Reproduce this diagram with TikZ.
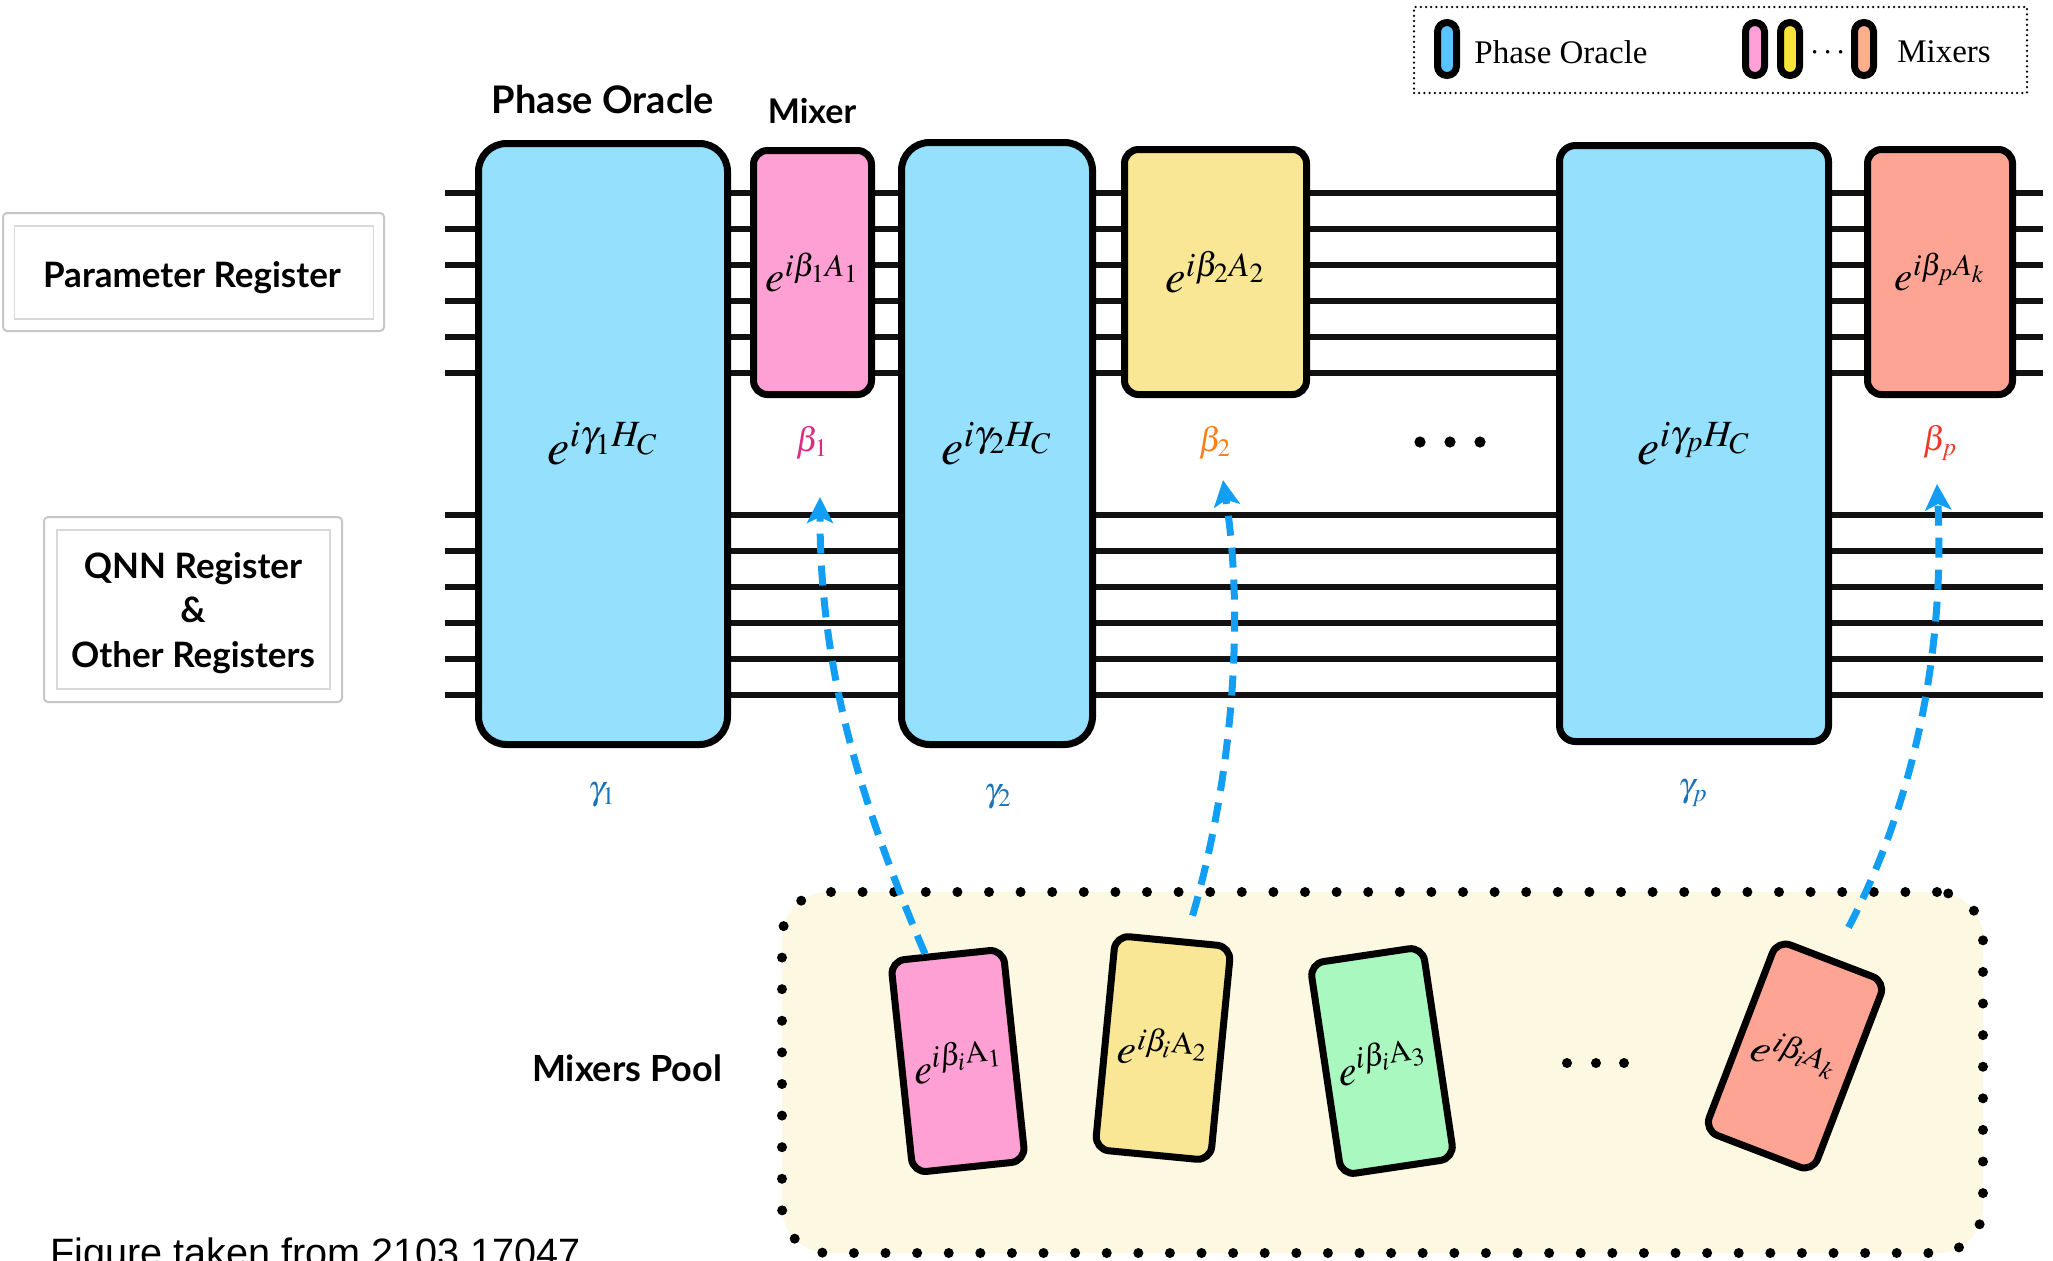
\documentclass[tikz,border=0pt]{standalone}
\usepackage{mathptmx}
\usepackage[no-math]{fontspec}
\setmainfont{Liberation Serif}
\newfontfamily\labfont{Lato}
\newfontfamily\figfont{Liberation Sans}
\usetikzlibrary{arrows.meta,calc}
\definecolor{oracle}{RGB}{148,224,253}
\definecolor{mixpink}{RGB}{255,160,212}
\definecolor{mixyellow}{RGB}{249,231,149}
\definecolor{mixsalmon}{RGB}{253,164,149}
\definecolor{mixgreen}{RGB}{169,248,192}
\definecolor{poolfill}{RGB}{252,248,225}
\definecolor{arrowblue}{RGB}{18,158,245}
\definecolor{betaone}{RGB}{222,40,130}
\definecolor{betatwo}{RGB}{250,128,20}
\definecolor{betap}{RGB}{240,55,40}
\definecolor{gammacol}{RGB}{25,115,185}
\definecolor{legblue}{RGB}{90,194,255}
\definecolor{legpink}{RGB}{255,160,216}
\definecolor{legyellow}{RGB}{249,228,58}
\definecolor{legsalmon}{RGB}{255,175,142}
\tikzset{
  gate/.style={draw=black, line width=3.5pt, inner sep=0pt, font=\fontsize{25}{30}\selectfont},
  wire/.style={line width=3pt, draw=black!93},
  poolgate/.style={gate, rounded corners=7pt, font=\fontsize{21}{25}\selectfont},
  lab/.style={font=\labfont\bfseries\fontsize{17.5}{22.25}\selectfont, inner sep=0pt},
  param/.style={font=\fontsize{17}{20}\selectfont, inner sep=0pt},
  conn/.style={draw=arrowblue, line width=3.5pt, dash pattern=on 10pt off 6pt,
    -{Stealth[length=13pt,width=13pt,inset=3pt]}},
  pill/.style={draw=black, line width=3.5pt, rounded corners=4.7pt,
    minimum width=9.5pt, minimum height=26.5pt, inner sep=0pt},
  regouter/.style={draw=black!22, line width=1pt, rounded corners=2pt, fill=white},
  reginner/.style={draw=black!15, line width=0.6pt, inner sep=0pt},
  leg/.style={font=\fontsize{16.5}{20}\selectfont, inner sep=0pt},
  dotc/.style={circle, fill=black, inner sep=0pt, minimum size=5.6pt},
}
\begin{document}
\begin{tikzpicture}[x=0.5pt,y=-0.5pt]
\useasboundingbox (0,0) rectangle (2053,1260);

% wires
\foreach \y in {193,229,265,301,337,373,515,551,587,623,659,695}
  \draw[wire] (445,\y) -- (2043,\y);

% gates
\node[gate, fill=oracle, rounded corners=14pt, minimum width=124.5pt, minimum height=300.5pt] (po1) at (603,444) {$e^{i\gamma_1 H_C}$};
\node[gate, fill=mixpink, rounded corners=7pt, minimum width=59pt, minimum height=122pt, font=\fontsize{21.5}{26}\selectfont] (mx1) at (812.5,272.5) {$e^{i\beta_1 A_1}$};
\node[gate, fill=oracle, rounded corners=14pt, minimum width=95.5pt, minimum height=301pt] (po2) at (997,443.5) {$e^{i\gamma_2 H_C}$};
\node[gate, fill=mixyellow, rounded corners=7pt, minimum width=91pt, minimum height=122.5pt, font=\fontsize{23}{27}\selectfont] (mx2) at (1215.5,272) {$e^{i\beta_2 A_2}$};
\node[gate, fill=oracle, rounded corners=8pt, minimum width=134.5pt, minimum height=298pt] (pop) at (1694,443.5) {$e^{i\gamma_p H_C}$};
\node[gate, fill=mixsalmon, rounded corners=7pt, minimum width=72.5pt, minimum height=122.5pt, font=\fontsize{20.5}{25}\selectfont] (mxp) at (1940,272) {$e^{i\beta_p A_k}$};

% top labels
\node[lab, font=\labfont\bfseries\fontsize{19}{23}\selectfont] (polab) at (603,100) {Phase Oracle};
\node[lab, font=\labfont\bfseries\fontsize{17}{21}\selectfont] (mixlab) at (812,111) {Mixer};

% parameter labels
\node[param, text=betaone] (b1) at (812,443) {$\beta_1$};
\node[param, text=betatwo] (b2) at (1215,443) {$\beta_2$};
\node[param, text=betap] (bp) at (1940,443) {$\beta_p$};
\node[param, text=gammacol] (g1) at (602,795) {$\gamma_1$};
\node[param, text=gammacol] (g2) at (998,797) {$\gamma_2$};
\node[param, text=gammacol] (gp) at (1693,793) {$\gamma_p$};

% dots between
\node[dotc] (d1) at (1420,442) {};
\node[dotc] (d2) at (1450,442) {};
\node[dotc] (d3) at (1480,442) {};

% register boxes
\node[regouter, minimum width=190.5pt, minimum height=59pt] (pregbox) at (193.5,272) {};
\node[reginner, minimum width=179.75pt, minimum height=46.5pt] (pregin) at (194,272.5) {};
\node[lab] (preg) at (192,278) {Parameter Register};
\node[regouter, minimum width=149pt, minimum height=92.5pt] (qregbox) at (193,609.5) {};
\node[reginner, minimum width=136.5pt, minimum height=79.5pt] (qregin) at (193.5,609.5) {};
\node[lab, align=center] (qreg) at (193,613) {QNN Register\\\&\\Other Registers};

% mixers pool
\node[draw=black, line width=5pt, dash pattern=on 0pt off 15.8pt, line cap=round, fill=poolfill,
  rounded corners=23pt, minimum width=600.5pt, minimum height=180.5pt] (pool) at (1382.5,1072.5) {};
\node[lab, font=\labfont\bfseries\fontsize{18}{22}\selectfont] (poollab) at (627,1068) {Mixers Pool};
\node[poolgate, fill=mixpink, rotate=6, minimum width=56.5pt, minimum height=106.5pt] (pg1) at (958,1061) {$e^{i\beta_i \mathrm{A}_1}$};
\node[poolgate, fill=mixyellow, rotate=-5.5, minimum width=58pt, minimum height=107.5pt] (pg2) at (1163,1048) {$e^{i\beta_i \mathrm{A}_2}$};
\node[poolgate, fill=mixgreen, rotate=8.5, minimum width=57pt, minimum height=107pt] (pg3) at (1382,1061) {$e^{i\beta_i \mathrm{A}_3}$};
\node[poolgate, fill=mixsalmon, rotate=-21, minimum width=58pt, minimum height=102pt] (pgk) at (1795,1056) {$e^{i\beta_i A_k}$};
\node[dotc, minimum size=5pt] (pd1) at (1567,1063) {};
\node[dotc, minimum size=5pt] (pd2) at (1596,1063) {};
\node[dotc, minimum size=5pt] (pd3) at (1624,1063) {};

% connectors
\coordinate (t1) at (820,497);
\coordinate (t2) at (1223,480);
\coordinate (t3) at (1937,484);
\draw[conn] ($(pg1.north west)!0.32!(pg1.north east)$) .. controls (855,790) and (820,660) .. (t1);
\draw[conn, shorten <=12pt] ($(pg2.north west)!0.6!(pg2.north east)$) .. controls (1232,780) and (1245,620) .. (t2);
\draw[conn, shorten <=17pt] (pgk.north) .. controls (1915,800) and (1945,650) .. (t3);

% legend
\node[draw=black, line width=1.25pt, dash pattern=on 0pt off 2.6pt, line cap=round,
  minimum width=306.5pt, minimum height=43pt, inner sep=0pt] (legend) at (1720.5,50) {};
\node[pill, fill=legblue] (lp1) at (1447,49) {};
\node[leg] (legpo) at (1561,52) {Phase Oracle};
\node[pill, fill=legpink] (lp2) at (1755,49) {};
\node[pill, fill=legyellow] (lp3) at (1790,49) {};
\node[leg] (legdots) at (1828,53) {$\cdots$};
\node[pill, fill=legsalmon] (lp4) at (1864,49) {};
\node[leg] (legmx) at (1944,52) {Mixers};

% footer
\node[anchor=base west, font=\figfont\fontsize{19.8}{24}\selectfont, inner sep=0pt] (fig) at (50,1266) {Figure taken from 2103.17047};
\end{tikzpicture}
\end{document}
